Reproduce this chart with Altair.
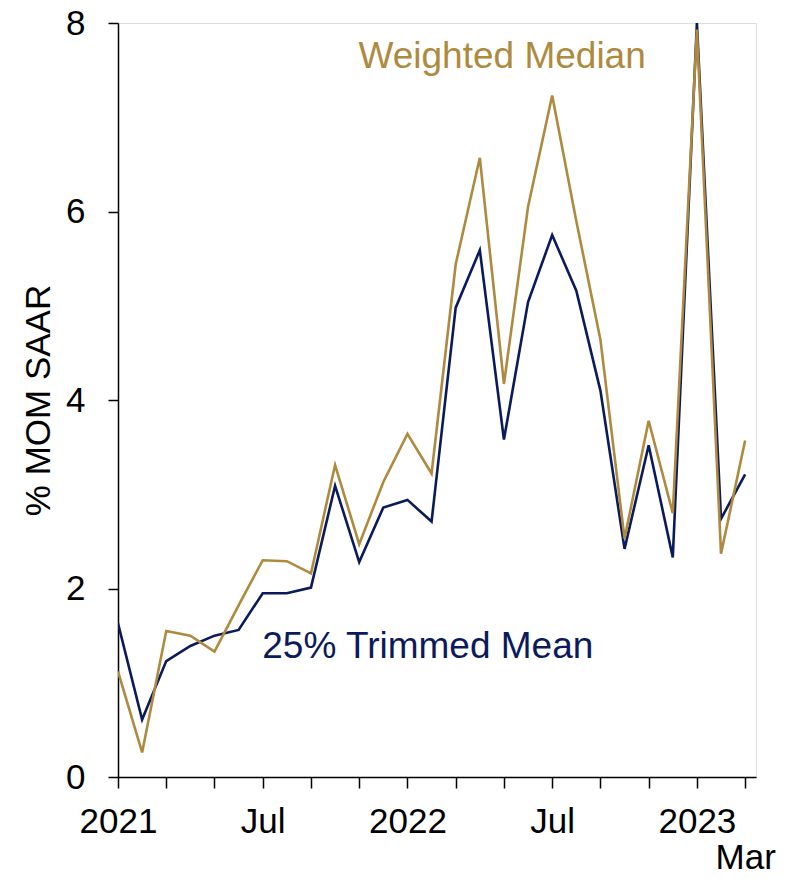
import json
import altair as alt
import pandas as pd

# Months Jan 2021 .. Mar 2023 (index 0..26)
month_index = list(range(27))
trimmed_mean = [1.63, 0.61, 1.23, 1.39, 1.50, 1.56, 1.95, 1.95, 2.01, 3.09, 2.28, 2.86,
                2.94, 2.71, 4.98, 5.59, 3.58, 5.04, 5.75, 5.16, 4.10, 2.42, 3.52, 2.33,
                8.00, 2.74, 3.21]
weighted_median = [1.12, 0.26, 1.55, 1.50, 1.33, 1.82, 2.30, 2.29, 2.16, 3.31, 2.47, 3.13,
                   3.64, 3.22, 5.44, 6.57, 4.17, 6.05, 7.23, 5.90, 4.64, 2.53, 3.78, 2.80,
                   7.93, 2.37, 3.57]
tick_labels = [["2021"], [""], [""], [""], [""], [""], ["Jul"], [""], [""], [""], [""], [""],
               ["2022"], [""], [""], [""], [""], [""], ["Jul"], [""], [""], [""], [""], [""],
               ["2023"], [""], ["", "Mar"]]
y_ticks = [0, 2, 4, 6, 8]
series_names = ["25% Trimmed Mean", "Weighted Median"]
series_colors = ["#0b1a5b", "#ae8a3f"]

df = pd.DataFrame({
    "m": month_index * 2,
    "v": trimmed_mean + weighted_median,
    "s": [series_names[0]] * 27 + [series_names[1]] * 27,
})

ann = pd.DataFrame({
    "m": [5.98, 9.97],
    "v": [1.26, 7.52],
    "s": series_names,
})

FONT = "Liberation Sans"
label_expr = json.dumps(tick_labels) + "[datum.value]"

x_scale = alt.Scale(domain=[0, 26.45], nice=False, zero=False)
y_scale = alt.Scale(domain=[0, 8], nice=False)
color_scale = alt.Scale(domain=series_names, range=series_colors)

lines = alt.Chart(df).mark_line(strokeWidth=2.6, clip=True).encode(
    x=alt.X("m:Q", scale=x_scale,
            axis=alt.Axis(values=month_index, labelExpr=label_expr, title=None,
                          grid=False, tickSize=11, tickColor="black", domainColor="black",
                          domainWidth=1.5, tickWidth=1.5, labelFont=FONT, labelFontSize=35,
                          labelColor="black", labelPadding=16, labelOverlap=False,
                          labelFlush=False, labelLineHeight=36, labelBaseline="top")),
    y=alt.Y("v:Q", scale=y_scale,
            axis=alt.Axis(values=y_ticks, format="d", title="% MOM SAAR", grid=False,
                          tickSize=10, tickColor="black", domainColor="black",
                          domainWidth=1.5, tickWidth=1.5, labelFont=FONT, labelFontSize=35,
                          labelColor="black", labelPadding=23, titleFont=FONT,
                          titleFontSize=35, titleFontWeight="normal", titleColor="black",
                          titlePadding=9)),
    color=alt.Color("s:N", scale=color_scale, legend=None),
)

texts = alt.Chart(ann).mark_text(font=FONT, fontSize=37, align="left",
                                 baseline="alphabetic").encode(
    x=alt.X("m:Q", scale=x_scale),
    y=alt.Y("v:Q", scale=y_scale),
    text="s:N",
    color=alt.Color("s:N", scale=color_scale, legend=None),
)

chart = (lines + texts).properties(
    width=638, height=754,
    autosize=alt.AutoSizeParams(type="none"),
    padding={"left": 110, "top": 15, "right": 28, "bottom": 94},
).configure_view(stroke=None).configure(background="white")

chart.save("out.html", embed_options={"renderer": "svg", "actions": False})
